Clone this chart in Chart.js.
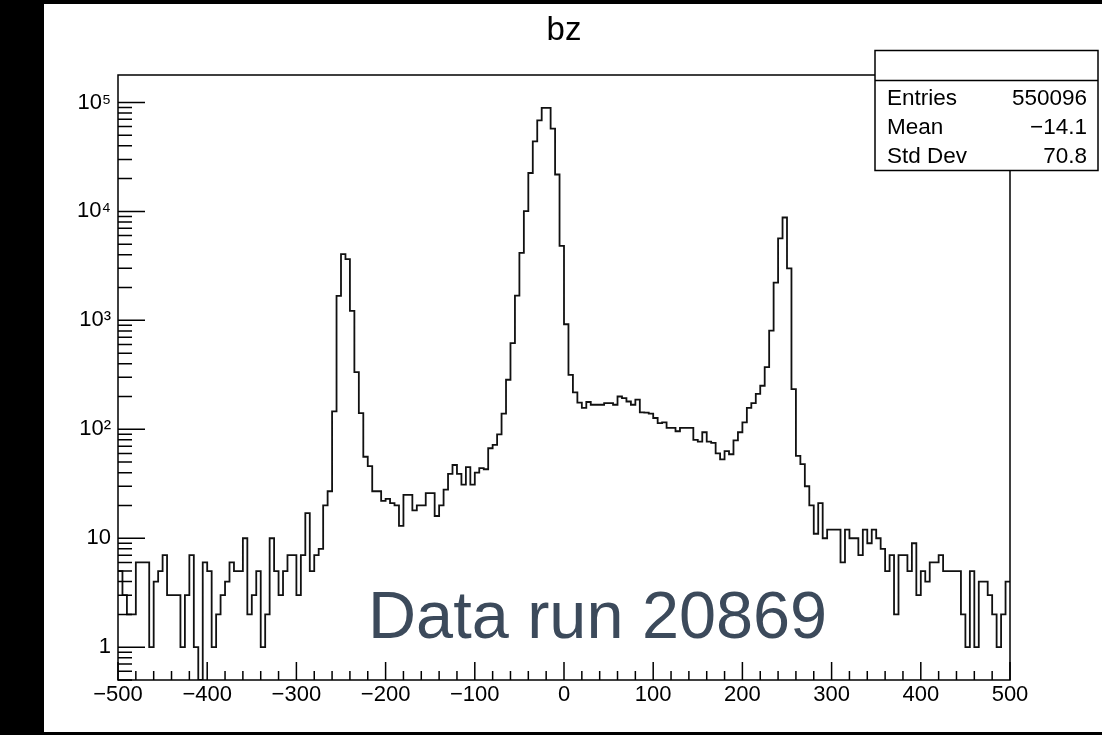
<!DOCTYPE html>
<html>
<head>
<meta charset="utf-8">
<script src="https://cdn.jsdelivr.net/npm/chart.js@4/dist/chart.umd.min.js"></script>
<style>
  html, body { margin: 0; padding: 0; background: #fff; }
  #wrap { position: relative; width: 1102px; height: 735px; }
</style>
</head>
<body>
<div id="wrap"><canvas id="chart" width="1102" height="735"></canvas></div>
<script>
// bz distribution, 200 bins of width 5 from -500 to 500
const binLow = -500;
const binWidth = 5;

// bin contents (20 bins per row)
const counts = [
    5,    3,    2,    2,    6,    6,    6,    1,    4,    5,    7,    3,    3,    3,    1,    3,    7,    1,    0,    6,
    5,    1,    2,    3,    4,    6,    5,    5,   10,    2,    3,    5,    1,    2,   10,    5,    3,    5,    7,    7,
    3,    7,   17,    5,    7,    8,   20,   27,  146, 1675, 4050, 3650, 1220,  335,  141,   56,   46,   27,   27,   22,
   23,   21,   20,   13,   25,   25,   18,   20,   20,   26,   26,   16,   20,   28,   39,   47,   39,   31,   45,   31,
   40,   44,   43,   67,   72,   90,  139,  285,  617, 1683, 4170,10040,22500,44000,68400,89300,89300,57400,21800, 4830,
  921,  316,  218,  176,  157,  178,  168,  168,  168,  174,  174,  168,  200,  193,  180,  168,  187,  143,  142,  139,
  127,  114,  116,  103,  103,   96,  103,  103,  103,   80,   77,   94,   77,   75,   60,   53,   63,   59,   79,   94,
  116,  157,  174,  211,  251,  372,  805, 2217, 5650, 8790, 3000,  234,   57,   48,   30,   20,   11,   21,   10,   12,
   12,   12,    6,   12,   10,   10,    7,   12,    9,   12,   10,    8,    5,    7,    2,    7,    7,    5,    9,    3,
    5,    4,    6,    6,    7,    5,    5,    5,    5,    2,    1,    5,    1,    4,    4,    3,    2,    1,    2,    4
];

const xTicks = [-500, -400, -300, -200, -100, 0, 100, 200, 300, 400, 500];
const yTicks = [1, 10, 100, 1000, 10000, 100000];
const statLabels = ['Entries', 'Mean', 'Std Dev'];
const statValues = ['550096', '\u221214.1', '70.8'];
const titleText = 'bz';
const noteText = 'Data run 20869';

// ROOT log axis: half the smallest content to twice the largest
const yMin = 0.5;
const yMax = 2 * Math.max(...counts);

const points = counts.map((c, i) => ({ x: binLow + i * binWidth, y: c > 0 ? c : yMin }));
points.push({ x: binLow + counts.length * binWidth, y: counts[counts.length - 1] > 0 ? counts[counts.length - 1] : yMin });

const sup = { 2: '\u00b2', 3: '\u00b3', 4: '\u2074', 5: '\u2075' };
const font = 'Liberation Sans, Arial, Helvetica, sans-serif';

// frame, inner ticks, stat box and the run label, drawn the ROOT way
const rootPad = {
    id: 'rootPad',
    beforeDraw(chart) {
        const ctx = chart.ctx;
        ctx.save();
        ctx.fillStyle = '#fff';
        ctx.fillRect(0, 0, chart.width, chart.height);
        ctx.fillStyle = '#000';
        ctx.fillRect(0, 0, 44, chart.height);
        ctx.fillRect(0, 0, chart.width, 4);
        ctx.fillRect(0, chart.height - 3, chart.width, 3);
        ctx.restore();
    },
    afterDraw(chart) {
        const ctx = chart.ctx;
        const a = chart.chartArea;
        const xs = chart.scales.x;
        const ys = chart.scales.y;
        ctx.save();
        ctx.strokeStyle = '#000';
        ctx.lineWidth = 1.5;
        ctx.strokeRect(a.left, a.top, a.right - a.left, a.bottom - a.top);

        // x ticks, pointing up into the frame
        ctx.beginPath();
        for (let v = -500; v <= 500; v += 20) {
            const px = xs.getPixelForValue(v);
            const len = v % 100 === 0 ? 18 : 9;
            ctx.moveTo(px, a.bottom);
            ctx.lineTo(px, a.bottom - len);
        }
        // log y ticks, pointing right
        for (let d = -1; d <= 5; d++) {
            for (let m = 1; m <= 9; m++) {
                const v = m * Math.pow(10, d);
                if (v < yMin || v > yMax) continue;
                const py = ys.getPixelForValue(v);
                ctx.moveTo(a.left, py);
                ctx.lineTo(a.left + (m === 1 ? 27 : 14), py);
            }
        }
        ctx.stroke();

        // statistics box
        const bx = 875, by = 50.5, bw = 223, bh = 120;
        ctx.fillStyle = '#fff';
        ctx.fillRect(bx, by, bw, bh);
        ctx.lineWidth = 1.5;
        ctx.strokeRect(bx, by, bw, bh);
        ctx.beginPath();
        ctx.moveTo(bx, by + 30);
        ctx.lineTo(bx + bw, by + 30);
        ctx.stroke();
        ctx.fillStyle = '#000';
        ctx.font = '22.5px ' + font;
        ctx.textBaseline = 'alphabetic';
        statLabels.forEach((lab, i) => {
            const base = 105 + i * 29;
            ctx.textAlign = 'left';
            ctx.fillText(lab, bx + 12, base);
            ctx.textAlign = 'right';
            ctx.fillText(statValues[i], bx + bw - 11, base);
        });

        // run label
        ctx.fillStyle = '#3c4a5b';
        ctx.font = '66.6px ' + font;
        ctx.textAlign = 'left';
        ctx.fillText(noteText, 368, 638);
        ctx.restore();
    }
};

new Chart(document.getElementById('chart').getContext('2d'), {
    type: 'line',
    data: {
        datasets: [{
            data: points,
            stepped: true,
            borderColor: '#111',
            borderWidth: 1.8,
            pointRadius: 0,
            fill: false
        }]
    },
    options: {
        responsive: false,
        animation: false,
        devicePixelRatio: 1,
        layout: { padding: { left: 26, right: 92, top: 0, bottom: 0 } },
        plugins: {
            legend: { display: false },
            tooltip: { enabled: false },
            title: {
                display: true,
                fullSize: false,
                text: titleText,
                color: '#000',
                font: { family: font, size: 33, weight: 'normal' },
                padding: { top: 11, bottom: 24.4 }
            }
        },
        scales: {
            x: {
                type: 'linear',
                min: binLow,
                max: binLow + counts.length * binWidth,
                grid: { display: false, drawTicks: false },
                border: { display: false },
                afterBuildTicks: s => { s.ticks = xTicks.map(v => ({ value: v })); },
                afterFit: s => { s.height = 55; },
                ticks: {
                    color: '#000',
                    font: { family: font, size: 22 },
                    padding: 2,
                    maxRotation: 0,
                    autoSkip: false,
                    callback: v => (v < 0 ? '\u2212' + Math.abs(v) : String(v))
                }
            },
            y: {
                type: 'logarithmic',
                min: yMin,
                max: yMax,
                grid: { display: false, drawTicks: false },
                border: { display: false },
                afterBuildTicks: s => { s.ticks = yTicks.map(v => ({ value: v })); },
                afterFit: s => { s.width = 92; },
                ticks: {
                    color: '#000',
                    font: { family: font, size: 22 },
                    padding: 7,
                    autoSkip: false,
                    callback: v => {
                        const e = Math.round(Math.log10(v));
                        return e < 2 ? String(v) : '10' + sup[e];
                    }
                }
            }
        }
    },
    plugins: [rootPad]
});
</script>
</body>
</html>
